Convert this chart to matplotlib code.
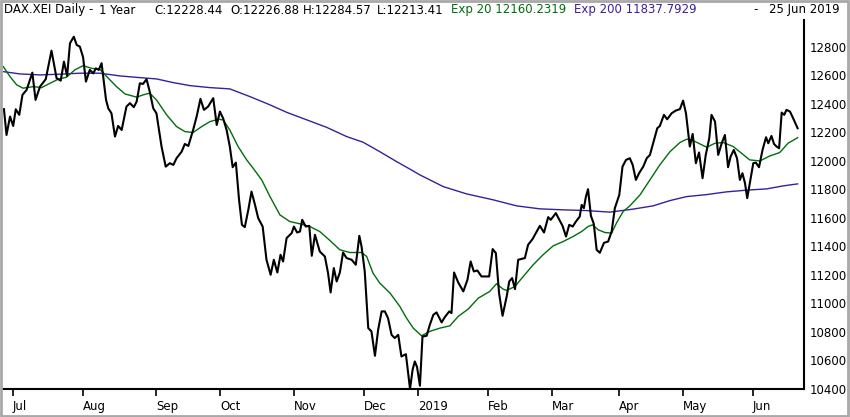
import matplotlib
matplotlib.use("Agg")
import matplotlib.pyplot as plt
from matplotlib.patches import Rectangle
import pandas as pd

# x positions are trading sessions counted from the first session of July 2018
close_x = [-2.8, -2.0, -0.9, 0.1, 0.9, 2.0, 3.0, 4.3, 6.1, 7.1, 8.5, 10.3, 12.1, 13.7, 15.0,
           16.0, 17.0, 17.9, 19.1, 20.0, 21.0, 22.0, 22.9, 24.1, 25.2, 26.0, 26.9, 27.8, 29.2,
           29.9, 30.9, 32.0, 33.0, 34.1, 35.6, 36.7, 37.9, 38.8, 39.8, 40.8, 41.9, 42.9, 44.0,
           45.0, 46.6, 47.9, 49.2, 50.3, 51.3, 52.9, 53.9, 55.0, 56.5, 57.6, 58.8, 59.9, 61.2,
           62.8, 63.9, 64.9, 65.9, 67.0, 68.0, 68.9, 69.9, 70.9, 71.8, 72.7, 73.8, 74.8, 75.9,
           76.9, 78.3, 79.5, 80.8, 81.8, 82.9, 83.9, 84.7, 85.8, 87.4, 88.1, 89.1, 90.0, 90.7,
           91.8, 92.9, 93.7, 94.7, 96.2, 97.8, 98.8, 99.6, 100.6, 101.5, 102.5, 103.5, 104.6,
           106.2, 107.5, 108.6, 109.3, 110.3, 111.4, 112.4, 113.5, 114.5, 115.6, 116.6, 117.6,
           118.7, 119.7, 120.8, 121.8, 123.2, 124.5, 125.3, 126.0, 126.7, 127.6, 128.4, 129.7,
           130.7, 131.8, 132.8, 134.4, 135.4, 136.8, 137.5, 138.3, 139.6, 141.2, 142.5, 143.5,
           144.5, 145.6, 146.9, 149.3, 150.4, 151.4, 152.4, 153.5, 154.8, 155.6, 156.5, 157.4,
           158.4, 160.5, 161.5, 162.9, 164.2, 165.2, 166.5, 167.8, 168.6, 170.2, 171.2, 172.3,
           173.4, 174.4, 175.5, 176.5, 177.7, 178.3, 179.0, 179.6, 180.3, 181.2, 182.1, 183.0,
           184.0, 185.3, 186.6, 187.7, 188.7, 190.1, 191.1, 192.2, 193.4, 194.3, 195.3, 196.3,
           197.6, 198.7, 199.7, 200.7, 202.0, 202.8, 204.1, 205.1, 206.5, 207.8, 209.1, 210.1,
           211.0, 211.7, 212.2, 213.1, 214.1, 215.1, 216.2, 217.2, 218.3, 219.0, 220.1, 221.1,
           222.2, 223.2, 224.2, 225.0, 226.0, 227.0, 227.9, 228.7, 229.5, 230.2, 231.3, 232.1,
           232.9, 233.9, 235.0, 236.1, 236.8, 237.8, 238.6, 239.4, 240.2, 241.0, 241.8, 242.5,
           243.6, 244.6, 246.0]
close_v = [12362, 12181, 12310, 12244, 12361, 12322, 12462, 12497, 12618, 12427, 12520, 12572,
           12772, 12579, 12562, 12695, 12595, 12824, 12870, 12812, 12800, 12726, 12555, 12637,
           12613, 12648, 12637, 12684, 12427, 12368, 12333, 12170, 12244, 12216, 12380, 12404,
           12376, 12415, 12543, 12539, 12572, 12485, 12368, 12333, 12100, 11959, 11983, 11971,
           12018, 12064, 12118, 12104, 12216, 12310, 12434, 12357, 12380, 12439, 12251, 12345,
           12298, 12216, 12100, 11955, 11987, 11726, 11551, 11535, 11656, 11784, 11691, 11598,
           11539, 11306, 11201, 11306, 11217, 11341, 11294, 11458, 11493, 11539, 11497, 11504,
           11586, 11539, 11544, 11334, 11481, 11364, 11329, 11212, 11077, 11248, 11154, 11217,
           11357, 11318, 11306, 11271, 11474, 11399, 11224, 10827, 10804, 10633, 10815, 10944,
           10944, 10897, 10780, 10757, 10780, 10628, 10644, 10400, 10535, 10593, 10554, 10423,
           10768, 10773, 10850, 10920, 10937, 10867, 10904, 10944, 10932, 11217, 11147, 11084,
           11166, 11294, 11224, 11231, 11189, 11189, 11381, 11353, 11073, 10913, 11049, 11154,
           11178, 11100, 11306, 11318, 11411, 11451, 11504, 11544, 11497, 11605, 11586, 11633,
           11591, 11544, 11469, 11551, 11539, 11574, 11609, 11691, 11668, 11745, 11801, 11614,
           11558, 11376, 11355, 11425, 11434, 11504, 11668, 11761, 11959, 12006, 12018, 11971,
           11866, 11913, 11959, 12018, 12041, 12123, 12228, 12244, 12322, 12291, 12333, 12352,
           12362, 12422, 12333, 12193, 12100, 12188, 11983, 12058, 11878, 12041, 12158, 12322,
           12275, 12041, 12123, 12181, 11955, 12030, 12076, 12018, 11866, 11913, 11843, 11738,
           11878, 11983, 11987, 11955, 12076, 12165, 12123, 12174, 12118, 12100, 12088, 12338,
           12322, 12357, 12345, 12298, 12228]

ema20_x = [-3.0, -0.9, 1.2, 3.2, 6.4, 9.0, 11.6, 14.2, 16.8, 19.4, 22.0, 24.7, 27.3, 29.9,
           32.5, 35.1, 38.8, 40.8, 42.9, 45.0, 48.2, 51.3, 53.9, 56.5, 59.2, 61.8, 64.4, 65.9,
           68.0, 70.6, 73.3, 75.3, 78.0, 80.6, 83.7, 86.8, 90.0, 93.1, 96.2, 99.4, 102.5,
           105.6, 109.3, 110.9, 112.9, 115.0, 118.2, 121.3, 123.4, 125.5, 128.1, 130.7, 133.9,
           137.0, 139.6, 142.7, 145.9, 149.5, 151.6, 153.7, 154.8, 157.4, 160.0, 163.1, 166.2,
           169.4, 172.5, 175.6, 178.3, 180.3, 181.7, 183.5, 185.6, 187.7, 189.2, 191.3, 193.4,
           196.6, 199.7, 202.8, 206.0, 209.1, 211.2, 212.8, 215.4, 217.5, 220.1, 222.7, 225.8,
           228.4, 231.0, 234.2, 237.3, 240.4, 243.0, 246.0]
ema20_v = [12660, 12590, 12532, 12509, 12520, 12513, 12543, 12572, 12586, 12637, 12667, 12648,
           12641, 12579, 12520, 12469, 12446, 12462, 12474, 12427, 12322, 12240, 12205, 12198,
           12240, 12275, 12291, 12287, 12216, 12100, 12006, 11948, 11866, 11749, 11621, 11574,
           11558, 11539, 11504, 11441, 11376, 11357, 11357, 11329, 11212, 11143, 11073, 10979,
           10897, 10827, 10773, 10804, 10827, 10843, 10909, 10960, 11037, 11084, 11138, 11100,
           11091, 11119, 11189, 11271, 11341, 11404, 11434, 11469, 11504, 11539, 11551, 11516,
           11497, 11493, 11563, 11644, 11684, 11761, 11866, 11971, 12064, 12128, 12151, 12146,
           12118, 12095, 12123, 12128, 12100, 12053, 12006, 11999, 12034, 12058, 12123, 12162]

ema200_x = [-3.0, 2.2, 8.5, 14.7, 21.0, 27.3, 33.5, 39.8, 45.0, 50.3, 55.5, 58.6, 61.8, 68.0,
            74.3, 80.6, 85.8, 92.1, 98.3, 104.6, 109.8, 115.0, 120.3, 124.5, 127.6, 134.9,
            142.2, 150.6, 157.9, 165.2, 172.5, 179.8, 187.1, 194.4, 200.7, 206.0, 211.2, 217.5,
            223.7, 230.0, 236.3, 241.5, 246.0]
ema200_v = [12625, 12609, 12602, 12607, 12614, 12614, 12595, 12583, 12574, 12548, 12527, 12520,
            12513, 12504, 12450, 12392, 12340, 12287, 12235, 12170, 12130, 12064, 11994, 11941,
            11901, 11819, 11768, 11726, 11684, 11663, 11656, 11651, 11640, 11661, 11684, 11721,
            11749, 11763, 11782, 11794, 11803, 11824, 11838]

# xetra sessions, used only to find the first session of each month
holidays = ["2018-12-24", "2018-12-25", "2018-12-26", "2018-12-31", "2019-01-01",
            "2019-04-19", "2019-04-22", "2019-05-01"]
sessions = pd.bdate_range("2018-07-02", "2019-06-25")
sessions = sessions[~sessions.isin(pd.to_datetime(holidays))]
month_pos = []
month_lab = []
prev = None
for i, d in enumerate(sessions):
    if d.month != prev:
        month_pos.append(i)
        month_lab.append("2019" if (d.month == 1) else d.strftime("%b"))
        prev = d.month

green = "#006d0c"
purple = "#3a1f9c"

fig = plt.figure(figsize=(8.5, 4.17), dpi=100)
ax = fig.add_axes([3 / 850, 28 / 417, 801 / 850, 369 / 417])

ax.plot(ema200_x, ema200_v, color=purple, lw=1.0)
ax.plot(ema20_x, ema20_v, color=green, lw=1.0)
ax.plot(close_x, close_v, color="black", lw=1.5)

ax.set_xlim(-3.1, 248.0)
ax.set_ylim(10400, 12987)

ax.set_yticks(range(10400, 12801, 200))
ax.yaxis.tick_right()
ax.tick_params(axis="y", length=0, pad=4, labelsize=8.5)
ax.set_xticks(month_pos)
ax.set_xticklabels(month_lab)
ax.tick_params(axis="x", length=5, width=1.2, direction="out", pad=3, labelsize=8.5)
for lbl in ax.get_xticklabels():
    lbl.set_ha("left")

for s in ["left", "top"]:
    ax.spines[s].set_visible(False)
for s in ["right", "bottom"]:
    ax.spines[s].set_linewidth(1.5)

# header line
def hdr(x, txt, color="black", ha="left"):
    fig.text(x / 850, 1 - 10 / 417, txt, color=color, fontsize=8.5, ha=ha, va="center")

hdr(4, "DAX.XEI Daily -")
hdr(99, "1 Year")
hdr(154, "C:12228.44")
hdr(230, "O:12226.88")
hdr(303, "H:12284.57")
hdr(377, "L:12213.41")
hdr(451, "Exp 20 12160.2319", green)
hdr(574, "Exp 200 11837.7929", purple)
hdr(753, "-")
hdr(840, "25 Jun 2019", ha="right")

# window frame
fig.patches.append(Rectangle((0.001, 0.002), 0.997, 0.996, transform=fig.transFigure,
                             fill=False, edgecolor="#a8a8a8", lw=2))

fig.savefig("out.png", dpi=100)
